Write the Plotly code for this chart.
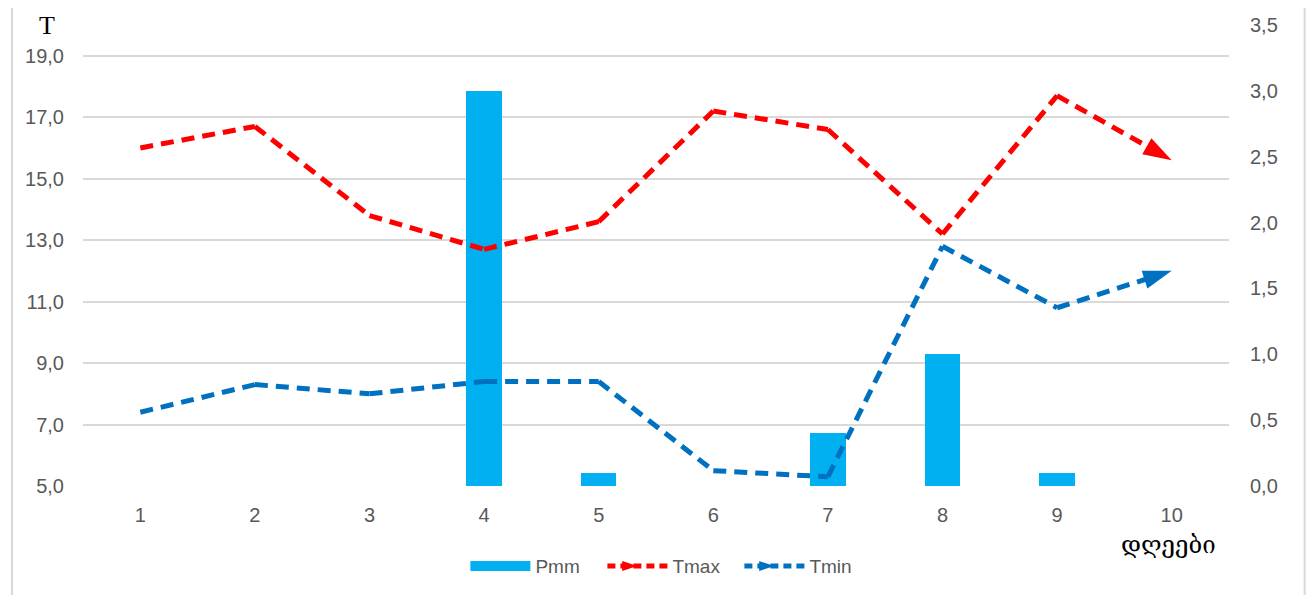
import plotly.graph_objects as go

days = [1, 2, 3, 4, 5, 6, 7, 8, 9, 10]
pmm = [0, 0, 0, 3.0, 0.1, 0, 0.4, 1.0, 0.1, 0]
tmax = [16.0, 16.7, 13.8, 12.7, 13.6, 17.2, 16.6, 13.2, 17.7, 15.6]
tmin = [7.4, 8.3, 8.0, 8.4, 8.4, 5.5, 5.3, 12.8, 10.8, 12.0]
left_ticks = [5, 7, 9, 11, 13, 15, 17, 19]
right_ticks = [0, 0.5, 1.0, 1.5, 2.0, 2.5, 3.0, 3.5]

RED = "#FF0000"
BLUE = "#0070C0"
BAR = "#00B0F0"
GREY = "#595959"
FONT = "Liberation Sans, Arial"
DASH = "13px,8px"
TS = 20

fig = go.Figure()

fig.add_trace(go.Bar(x=days, y=pmm, name="Pmm", marker=dict(color=BAR, line=dict(width=0)),
                     width=0.31, yaxis="y", showlegend=False))

def line_trace(vals, color, name):
    n = len(vals)
    return go.Scatter(
        x=days, y=vals, name=name, yaxis="y2", mode="lines+markers",
        line=dict(color=color, width=5, dash=DASH),
        marker=dict(symbol=["arrow"] * n, angleref="previous", opacity=1,
                    size=[0] * (n - 1) + [30], color=color, line=dict(width=0)),
        showlegend=False)

fig.add_trace(line_trace(tmax, RED, "Tmax"))
fig.add_trace(line_trace(tmin, BLUE, "Tmin"))

fig.add_trace(go.Scatter(x=[None], y=[None], name="Pmm", yaxis="y2", mode="lines",
                         line=dict(color=BAR, width=13)))
for name, color in [("Tmax", RED), ("Tmin", BLUE)]:
    fig.add_trace(go.Scatter(x=[None], y=[None], name=name, yaxis="y2",
                             mode="lines+markers",
                             line=dict(color=color, width=5, dash="8px,5px"),
                             marker=dict(symbol="arrow", angle=90, size=22, color=color)))

fig.update_layout(
    width=1315, height=595,
    margin=dict(l=75, r=94, t=17, b=117),
    paper_bgcolor="white", plot_bgcolor="white",
    separators=", ",
    font=dict(family=FONT, color=GREY, size=TS),
    xaxis=dict(range=[0.5, 10.5], tickvals=days, ticktext=[str(d) for d in days],
               showgrid=False, zeroline=False, showline=False, automargin=False,
               ticks="", ticklabelstandoff=15, tickfont=dict(size=TS, color=GREY)),
    yaxis=dict(side="right", range=[0, 3.5], tickvals=right_ticks, tickformat=".1f",
               showgrid=False, zeroline=False, showline=False, ticks="", automargin=False,
               ticklabelstandoff=20, tickfont=dict(size=TS, color=GREY)),
    yaxis2=dict(side="left", overlaying="y", range=[5, 20], tickvals=left_ticks,
                tickformat=".1f", showgrid=True, gridcolor="#D9D9D9", gridwidth=2,
                zeroline=False, showline=False, ticks="", ticklabelstandoff=18,
                automargin=False, tickfont=dict(size=TS, color=GREY)),
    legend=dict(orientation="h", x=0.513, xanchor="center", y=-0.174, yanchor="middle",
                font=dict(size=19, color=GREY), bgcolor="rgba(0,0,0,0)",
                itemwidth=60, entrywidth=62, entrywidthmode="pixels",
                traceorder="normal"),
    bargap=0,
)

fig.add_annotation(text="T", x=-0.031, y=1.0, xref="paper", yref="paper",
                   showarrow=False, xanchor="center", yanchor="middle",
                   font=dict(family="Liberation Serif, DejaVu Serif", size=26, color="black"))
fig.add_annotation(text="დღეები", x=0.947, y=-0.128, xref="paper", yref="paper",
                   showarrow=False, xanchor="center", yanchor="middle",
                   font=dict(family="DejaVu Serif, DejaVu Sans", size=24, color="black"))

fig.add_shape(type="rect", xref="paper", yref="paper",
              x0=-0.062, x1=1.066, y0=-0.3, y1=1.1,
              line=dict(color="#D9D9D9", width=2), fillcolor="rgba(0,0,0,0)", layer="below")

fig.write_html("out.html")
